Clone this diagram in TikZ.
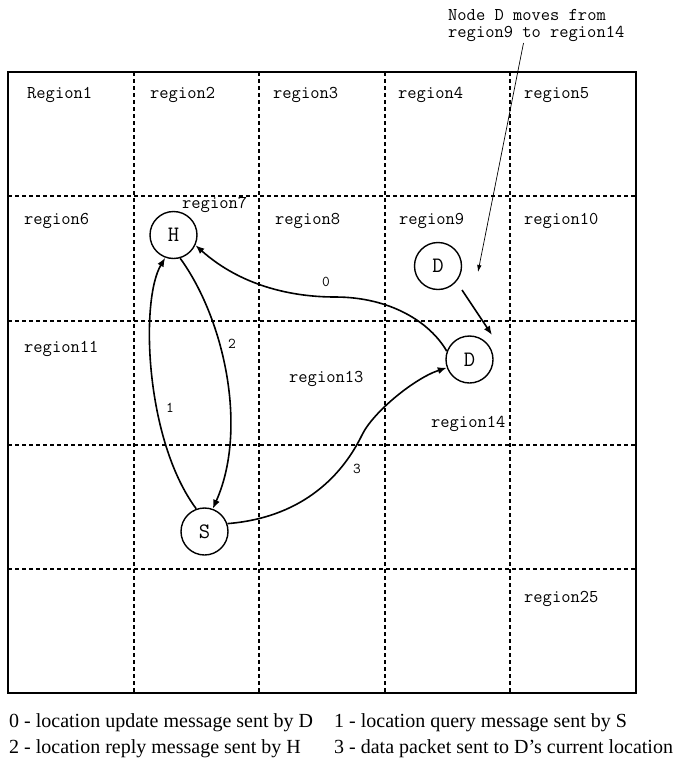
\documentclass[tikz,border=0pt]{standalone}
\usepackage{fontspec}
\setmainfont{Liberation Serif}
\usetikzlibrary{arrows.meta}
\begin{document}
\begin{tikzpicture}[x=1pt,y=-1pt,
  gridline/.style={line width=1.8pt, dash pattern=on 4pt off 3pt},
  reg/.style={font=\fontsize{18}{18}\selectfont\ttfamily, anchor=base west, inner sep=0pt},
  nd/.style={circle, draw, line width=1.4pt, minimum size=47pt, inner sep=0pt, font=\fontsize{22}{22}\selectfont\ttfamily},
  msg/.style={line width=1.6pt, -{Latex[length=9pt,width=7pt]}},
  elab/.style={font=\fontsize{15}{15}\selectfont\ttfamily, inner sep=0pt},
  legend/.style={font=\fontsize{20}{20}\selectfont, anchor=base west, inner sep=0pt}]
\useasboundingbox (0,0) rectangle (683,763);
% grid
\foreach \x in {134,259,385,510} \draw[gridline] (\x,72) -- (\x,693);
\foreach \y in {196,321,445,569} \draw[gridline] (8,\y) -- (636,\y);
\draw[line width=2.4pt] (8,72) rectangle (636,693);
% region labels
\node[reg] (r1) at (27,98) {Region1};
\node[reg] (r2) at (150,98) {region2};
\node[reg] (r3) at (273,98) {region3};
\node[reg] (r4) at (398,98) {region4};
\node[reg] (r5) at (524,98) {region5};
\node[reg] (r6) at (24,224) {region6};
\node[reg] (r7) at (182,208) {region7};
\node[reg] (r8) at (275,224) {region8};
\node[reg] (r9) at (399,224) {region9};
\node[reg] (r10) at (524,224) {region10};
\node[reg] (r11) at (24,352) {region11};
\node[reg] (r13) at (289,382) {region13};
\node[reg] (r14) at (431,427) {region14};
\node[reg] (r25) at (524,602) {region25};
% annotation
\node[reg] (note1) at (448,20) {Node D moves from};
\node[reg] (note2) at (448,37) {region9 to region14};
\coordinate (noteA) at (523.5,43);
\coordinate (noteB) at (478,272);
\draw[line width=0.7pt, -{Latex[length=7pt,width=4.5pt]}] (noteA) -- (noteB);
% nodes
\node[nd] (H) at (173.5,235) {H};
\node[nd] (D1) at (438,266) {D};
\node[nd] (D2) at (469.5,359.5) {D};
\node[nd] (S) at (204.5,531.5) {S};
% move arrow
\coordinate (mvA) at (462,290);
\coordinate (mvB) at (492,335);
\draw[msg] (mvA) -- (mvB);
% messages
\coordinate (m0) at (335,297);
\draw[msg] (D2.160) .. controls (430,322) and (390,297) .. (m0) .. controls (290,297) and (240,285) .. (H.-25);
\draw[msg] (S.110) .. controls (145,440) and (140,300) .. (H.-110);
\draw[msg] (H.-74) .. controls (225,320) and (248,430) .. (S.70);
\coordinate (m3) at (362,435);
\draw[msg] (S.19) .. controls (298,518) and (340,480) .. (m3) .. controls (373,412) and (415,378) .. (D2.-160);
% edge labels
\node[elab] (l0) at (326,282) {0};
\node[elab] (l2) at (232,344) {2};
\node[elab] (l1) at (170,408) {1};
\node[elab] (l3) at (357,469) {3};
% legend
\node[legend] (g0) at (9,727) {0 - location update message sent by D};
\node[legend] (g1) at (334,727) {1 - location query message sent by S};
\node[legend] (g2) at (9,753) {2 - location reply message sent by H};
\node[legend] (g3) at (334,753) {3 - data packet sent to D's current location};
\end{tikzpicture}
\end{document}
